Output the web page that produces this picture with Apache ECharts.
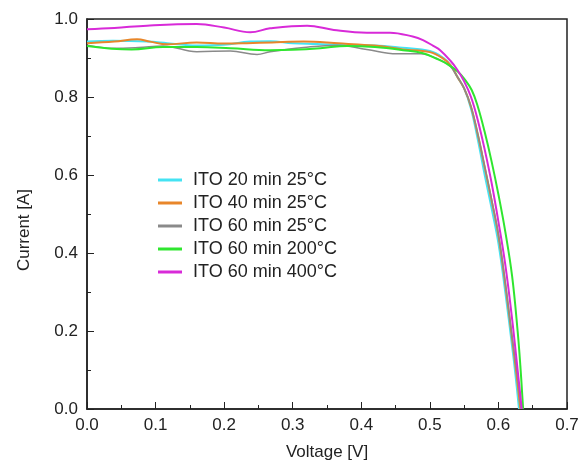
<!DOCTYPE html>
<html>
<head>
<meta charset="utf-8">
<script src="https://cdn.jsdelivr.net/npm/echarts@6/dist/echarts.min.js"></script>
<style>html,body{margin:0;padding:0;background:#fff;}#c{width:587px;height:466px;}</style>
</head>
<body>
<div id="c"></div>
<script>
var seriesNames = ['ITO 20 min 25°C', 'ITO 40 min 25°C', 'ITO 60 min 25°C', 'ITO 60 min 200°C', 'ITO 60 min 400°C'];
var xTicks = [0, 0.1, 0.2, 0.3, 0.4, 0.5, 0.6, 0.7];
var yTicks = [0, 0.2, 0.4, 0.6, 0.8, 1.0];

var ito20min25 = [[0,0.942],[0.038,0.944],[0.0875,0.942],[0.117,0.938],[0.16,0.932],[0.2,0.934],[0.238,0.942],[0.267,0.943],[0.3,0.938],[0.335,0.936],[0.38,0.933],[0.42,0.932],[0.46,0.926],[0.5,0.918],[0.52,0.9],[0.53,0.882],[0.54,0.852],[0.55,0.822],[0.56,0.77],[0.57,0.69],[0.58,0.6],[0.59,0.515],[0.6,0.425],[0.61,0.3],[0.62,0.16],[0.625,0.085],[0.63,0]];
var ito40min25 = [[0,0.938],[0.04,0.942],[0.073,0.948],[0.092,0.942],[0.117,0.935],[0.16,0.94],[0.2,0.937],[0.233,0.938],[0.27,0.94],[0.316,0.942],[0.35,0.94],[0.388,0.935],[0.43,0.93],[0.461,0.922],[0.5,0.915],[0.52,0.898],[0.53,0.882],[0.54,0.852],[0.55,0.822],[0.56,0.775],[0.57,0.703],[0.58,0.62],[0.59,0.535],[0.6,0.445],[0.61,0.32],[0.62,0.18],[0.627,0.08],[0.632,0]];
var ito60min25 = [[0,0.933],[0.038,0.925],[0.075,0.927],[0.111,0.931],[0.16,0.916],[0.209,0.918],[0.248,0.909],[0.267,0.916],[0.316,0.927],[0.365,0.933],[0.408,0.922],[0.452,0.911],[0.486,0.911],[0.515,0.895],[0.53,0.878],[0.54,0.852],[0.55,0.822],[0.56,0.776],[0.57,0.705],[0.58,0.622],[0.59,0.538],[0.6,0.448],[0.61,0.325],[0.62,0.185],[0.628,0.08],[0.633,0]];
var ito60min200 = [[0,0.931],[0.065,0.922],[0.111,0.928],[0.16,0.928],[0.209,0.925],[0.267,0.92],[0.3,0.921],[0.34,0.925],[0.379,0.931],[0.42,0.928],[0.461,0.92],[0.49,0.912],[0.51,0.898],[0.525,0.885],[0.541,0.865],[0.55,0.847],[0.561,0.818],[0.57,0.775],[0.58,0.71],[0.59,0.635],[0.6,0.55],[0.61,0.455],[0.62,0.34],[0.628,0.2],[0.632,0.11],[0.636,0]];
var ito60min400 = [[0,0.974],[0.04,0.977],[0.0875,0.983],[0.16,0.987],[0.2,0.978],[0.238,0.966],[0.267,0.976],[0.321,0.983],[0.36,0.972],[0.408,0.965],[0.442,0.965],[0.475,0.955],[0.49,0.946],[0.505,0.931],[0.515,0.92],[0.53,0.893],[0.54,0.87],[0.55,0.84],[0.56,0.8],[0.57,0.74],[0.58,0.665],[0.59,0.58],[0.6,0.48],[0.61,0.37],[0.62,0.23],[0.628,0.1],[0.634,0]];

var seriesData = [ito20min25, ito40min25, ito60min25, ito60min200, ito60min400];
var colors = ['#45e3f3', '#e8862a', '#8a8a8a', '#2fe62f', '#d82ad8'];
var widths = [2, 2, 1.5, 2, 2];

var font = 'Liberation Sans, Arial, sans-serif';
var chart = echarts.init(document.getElementById('c'), null, {renderer: 'canvas'});

var series = seriesData.map(function (d, k) {
  return {
    name: seriesNames[k],
    type: 'line',
    data: d,
    smooth: 0.4,
    symbol: 'none',
    showSymbol: false,
    lineStyle: {color: colors[k], width: widths[k]},
    itemStyle: {color: colors[k]},
    z: 2 + k
  };
});

chart.setOption({
  animation: false,
  backgroundColor: '#fff',
  grid: {left: 87, right: 20, top: 19, bottom: 57, show: true, borderColor: '#222', borderWidth: 1.5, backgroundColor: 'transparent'},
  legend: {
    orient: 'vertical',
    left: 153,
    top: 166,
    itemWidth: 24,
    itemHeight: 14,
    itemGap: 5,
    icon: 'path://M0,5.5 L24,5.5 L24,8.5 L0,8.5 Z',
    data: seriesNames,
    textStyle: {fontFamily: font, fontSize: 18, color: '#222', lineHeight: 18, padding: [0, 0, 0, 6]}
  },
  xAxis: {
    type: 'value',
    min: 0, max: 0.7, interval: 0.1,
    name: 'Voltage [V]',
    nameLocation: 'middle',
    nameGap: 35,
    nameTextStyle: {fontFamily: font, fontSize: 17, color: '#222'},
    axisLine: {show: true, onZero: false, lineStyle: {color: '#222', width: 1.5}},
    axisTick: {show: true, inside: true, length: 7, lineStyle: {color: '#222', width: 1}},
    minorTick: {show: true, splitNumber: 2, length: 4, lineStyle: {color: '#222', width: 1}},
    splitLine: {show: false},
    axisLabel: {fontFamily: font, fontSize: 17, color: '#222', margin: 8,
      formatter: function (v) { return xTicks.indexOf(Math.round(v * 10) / 10) >= 0 ? v.toFixed(1) : ''; }}
  },
  yAxis: {
    type: 'value',
    min: 0, max: 1.0, interval: 0.2,
    axisLine: {show: true, onZero: false, lineStyle: {color: '#222', width: 1.5}},
    axisTick: {show: true, inside: true, length: 7, lineStyle: {color: '#222', width: 1}},
    minorTick: {show: true, splitNumber: 2, length: 4, lineStyle: {color: '#222', width: 1}},
    splitLine: {show: false},
    axisLabel: {fontFamily: font, fontSize: 17, color: '#222', margin: 9,
      formatter: function (v) { return yTicks.indexOf(Math.round(v * 10) / 10) >= 0 ? v.toFixed(1) : ''; }}
  },
  graphic: [{
    type: 'text',
    x: 24, y: 230,
    rotation: Math.PI / 2,
    style: {text: 'Current [A]', fontFamily: font, fontSize: 17, fill: '#222', align: 'center', verticalAlign: 'middle'}
  }],
  series: series
});
</script>
</body>
</html>
